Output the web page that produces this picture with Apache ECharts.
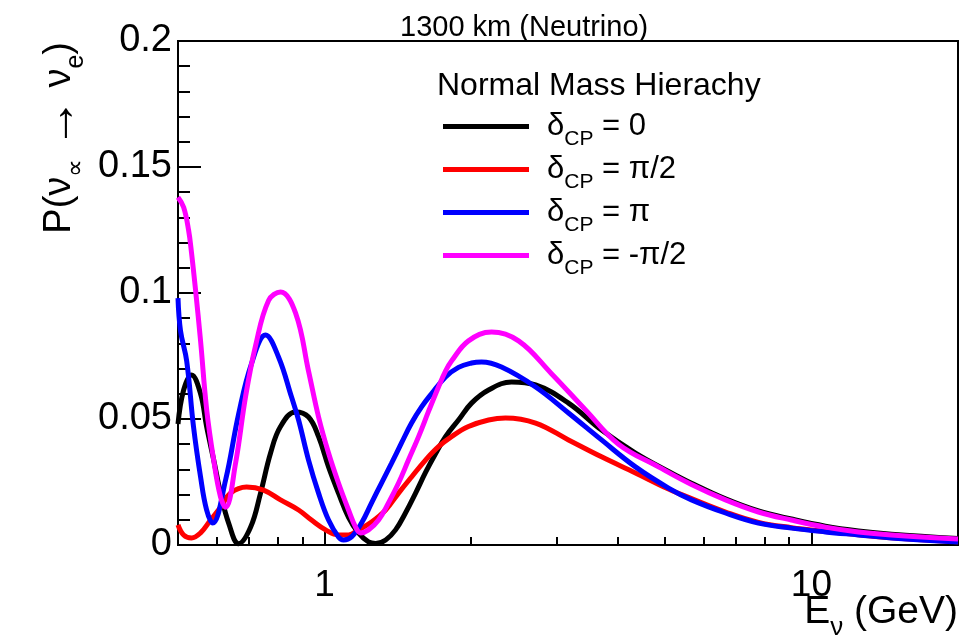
<!DOCTYPE html>
<html><head><meta charset="utf-8">
<script src="https://cdn.jsdelivr.net/npm/echarts@6/dist/echarts.min.js"></script>
<style>html,body{margin:0;padding:0;background:#fff}#c{width:963px;height:642px}</style>
</head><body><div id="c"></div>
<script>
const FONT = '"Liberation Sans", Arial, Helvetica, sans-serif';

// Energy (GeV) / probability pairs
const eBlack = [0.5,0.5135,0.533,0.5563,0.5724,0.5916,0.6115,0.6353,0.666,0.7047,0.7388,0.7747,0.812,0.872,0.927,0.972,1.019,1.068,1.12,1.174,1.231,1.273,1.335,1.399,1.466,1.538,1.612,1.69,1.772,1.884,2.004,2.172,2.421,2.713,3.17,3.706,4.351,5.087,5.671,6.661,7.784,9.097,10.68,12.49,14.6,20];
const pBlack = [0.048,0.0615,0.0675,0.060,0.047,0.034,0.0206,0.0087,0.0005,0.007,0.0206,0.0365,0.047,0.0528,0.0508,0.043,0.031,0.0206,0.011,0.0048,0.0012,0.0006,0.002,0.006,0.0127,0.0206,0.0288,0.0362,0.043,0.0496,0.0563,0.0615,0.0647,0.0635,0.0563,0.0456,0.0365,0.0292,0.0245,0.0183,0.0135,0.0103,0.0075,0.0056,0.0043,0.0026];

const eRed = [0.5,0.5135,0.533,0.5563,0.5833,0.6115,0.6412,0.6916,0.7493,0.812,0.8844,0.94,1.005,1.068,1.12,1.174,1.249,1.335,1.419,1.509,1.612,1.714,1.823,1.975,2.172,2.353,2.713,3.17,3.706,4.351,5.087,5.671,6.661,7.784,9.097,10.68,12.49,14.6,20];
const pRed = [0.008,0.004,0.0028,0.0048,0.0099,0.015,0.0206,0.023,0.0218,0.0179,0.0139,0.0099,0.006,0.004,0.004,0.006,0.0091,0.0139,0.0206,0.027,0.0337,0.039,0.043,0.047,0.0496,0.0504,0.0484,0.0417,0.035,0.0286,0.0222,0.0184,0.0131,0.0090,0.0069,0.0054,0.0041,0.0029,0.0013];

const eBlue = [0.5,0.506,0.521,0.538,0.5563,0.5724,0.589,0.6262,0.666,0.708,0.7565,0.8043,0.8554,0.8844,0.927,0.972,1.019,1.068,1.094,1.136,1.191,1.249,1.309,1.373,1.439,1.509,1.582,1.658,1.772,1.884,2.004,2.101,2.309,2.713,3.17,3.706,4.351,5.087,5.671,6.661,7.784,9.097,10.68,12.49,14.6,20];
const pBlue = [0.098,0.085,0.073,0.047,0.027,0.0139,0.0087,0.0258,0.052,0.072,0.0833,0.0746,0.0587,0.0496,0.0337,0.0206,0.0099,0.0032,0.002,0.0032,0.0087,0.0167,0.0246,0.0325,0.0405,0.0484,0.0548,0.060,0.0667,0.0705,0.0722,0.0726,0.0706,0.0627,0.0524,0.0417,0.031,0.0226,0.0179,0.0127,0.0087,0.0067,0.0052,0.004,0.0028,0.0012];

const eMag = [0.5,0.5135,0.5256,0.533,0.5434,0.5563,0.5724,0.5916,0.6115,0.6262,0.6565,0.6884,0.7215,0.7674,0.812,0.872,0.927,0.972,1.019,1.068,1.12,1.158,1.186,1.231,1.291,1.353,1.419,1.487,1.56,1.635,1.714,1.772,1.823,1.975,2.203,2.503,2.925,3.436,4.016,4.852,5.671,6.661,7.784,9.097,10.68,12.49,14.6,20];
const pMag = [0.138,0.134,0.125,0.116,0.101,0.081,0.054,0.034,0.019,0.015,0.0325,0.059,0.079,0.097,0.1004,0.092,0.069,0.0508,0.0365,0.0246,0.0139,0.0071,0.0048,0.006,0.0099,0.0167,0.0246,0.0337,0.043,0.053,0.0627,0.069,0.073,0.081,0.0845,0.081,0.068,0.0536,0.040,0.031,0.024,0.0179,0.0131,0.0099,0.0071,0.0052,0.004,0.0024];

const seriesNames = ['dcp0','dcpPi2','dcpPi','dcpMPi2'];
const legendValues = ['= 0','= π/2','= π','= -π/2'];
const seriesColors = ['#000000','#ff0000','#0000ff','#ff00ff'];

const xMinE = 0.5, xMaxE = 20;
const xTickE = [0.6,0.7,0.8,0.9,1,2,3,4,5,6,7,8,9,10];
const xMajorE = [1,10];
const yMin = 0, yMax = 0.2, yStep = 0.05;

const titleText = '1300 km (Neutrino)';
const legendHeader = 'Normal Mass Hierachy';

const lg = Math.log10;
function pairs(e, p){ return e.map((v,i)=>[lg(v), p[i]]); }
const allE = [eBlack,eRed,eBlue,eMag], allP=[pBlack,pRed,pBlue,pMag];

const chart = echarts.init(document.getElementById('c'), null, {renderer:'canvas'});
const axisCommon = {
  type:'value', min: lg(xMinE), max: lg(xMaxE), gridIndex:0, position:'bottom',
  splitLine:{show:false}
};
function sub(fs){ return {fontSize:fs, fontFamily:FONT, color:'#000', fill:'#000', lineHeight:8, height:8, verticalAlign:'bottom'}; }
chart.setOption({
  backgroundColor:'#ffffff',
  animation:false,
  grid:{left:178, right:5, top:41, bottom:97, show:true, borderColor:'#000', borderWidth:2, backgroundColor:'transparent'},
  xAxis:[
    Object.assign({}, axisCommon, {
      axisLine:{show:true, onZero:false, lineStyle:{color:'#000', width:2}},
      axisTick:{show:true, inside:true, length:8, lineStyle:{color:'#000', width:2}, customValues: xTickE.map(lg)},
      axisLabel:{show:true, customValues: xMajorE.map(lg), margin:22, fontSize:37, fontFamily:FONT, color:'#000',
        formatter: v => String(Math.round(Math.pow(10, v)))}
    }),
    Object.assign({}, axisCommon, {
      axisLine:{show:false, onZero:false},
      axisTick:{show:true, inside:true, length:14, lineStyle:{color:'#000', width:2}, customValues: xMajorE.map(lg)},
      axisLabel:{show:false}
    })
  ],
  yAxis:{
    type:'value', min:yMin, max:yMax, interval:yStep,
    splitLine:{show:false},
    axisLine:{show:true, onZero:false, lineStyle:{color:'#000', width:2}},
    axisTick:{show:true, inside:true, length:23, lineStyle:{color:'#000', width:2}},
    minorTick:{show:true, splitNumber:5, length:12, lineStyle:{color:'#000', width:2}},
    axisLabel:{margin:6, fontSize:38, fontFamily:FONT, color:'#000'}
  },
  legend:{
    orient:'vertical', left:443, top:111, padding:0, itemGap:4,
    itemWidth:86, itemHeight:5, icon:'rect',
    data: seriesNames,
    formatter: name => '{d|δ}{s|CP}{m| ' + legendValues[seriesNames.indexOf(name)] + '}',
    textStyle:{
      padding:[0,0,0,13],
      rich:{
        d:{fontSize:31, fontFamily:FONT, color:'#000', lineHeight:34},
        m:{fontSize:31, fontFamily:FONT, color:'#000', lineHeight:34},
        s:sub(21)
      }
    }
  },
  graphic:[
    {type:'text', left:400, top:13, style:{text:titleText, font:'29px '+FONT, fill:'#000'}},
    {type:'text', left:437, top:70, style:{text:legendHeader, font:'32px '+FONT, fill:'#000'}},
    {type:'text', x:958, y:612, style:{
      text:'{m|E}{s|ν}{m| (GeV)}', align:'right', verticalAlign:'middle',
      rich:{
        m:{fontSize:39, fontFamily:FONT, fill:'#000', lineHeight:40},
        s:sub(26)
      }}},
    {type:'text', x:60, y:42, rotation:Math.PI/2, style:{
      text:'{m|P(ν}{s|∝}{m| }{a|→}{m| ν}{s|e}{m|)}', align:'right', verticalAlign:'middle',
      rich:{
        m:{fontSize:38, fontFamily:FONT, fill:'#000', lineHeight:40},
        a:{fontSize:50, fontFamily:FONT, fill:'#000', lineHeight:40},
        s:sub(25)
      }}}
  ],
  series: seriesNames.map((n,i)=>({
    name:n, type:'line', xAxisIndex:0, yAxisIndex:0,
    data: pairs(allE[i], allP[i]), smooth:0.4, showSymbol:false, symbol:'none',
    lineStyle:{color:seriesColors[i], width:5}, itemStyle:{color:seriesColors[i]}, z:2+i
  }))
});
</script></body></html>
